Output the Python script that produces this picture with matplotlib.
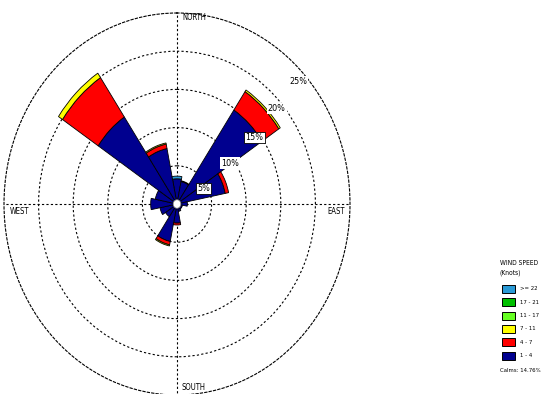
import numpy as np
import matplotlib
matplotlib.use('Agg')
import matplotlib.pyplot as plt
from matplotlib.patches import Rectangle

plt.rcParams['font.family'] = ['DejaVu Sans']

# 16 directions, clockwise from north
directions = ['N', 'NNE', 'NE', 'ENE', 'E', 'ESE', 'SE', 'SSE',
              'S', 'SSW', 'SW', 'WSW', 'W', 'WNW', 'NW', 'NNW']
angles_deg = np.arange(16) * 22.5

# frequency (%) per speed class, per direction
speed_1_4 = [3.3, 3.0, 14.8, 7.1, 1.5, 0.8, 0.8, 1.0,
             2.5, 5.0, 2.0, 2.5, 3.8, 3.2, 13.7, 7.4]
speed_4_7 = [0, 0.1, 2.9, 0.5, 0, 0, 0, 0,
             0.25, 0.45, 0, 0, 0, 0, 6.2, 0.6]
speed_7_11 = [0, 0, 0.25, 0, 0, 0, 0, 0,
              0, 0.15, 0, 0, 0, 0, 0.7, 0.15]
speed_11_17 = [0] * 16
speed_17_21 = [0] * 16
speed_22 = [0.35, 0, 0, 0, 0, 0, 0, 0,
            0, 0, 0, 0, 0, 0, 0, 0]

classes = ['1 - 4', '4 - 7', '7 - 11', '11 - 17', '17 - 21', '>= 22']
class_values = [speed_1_4, speed_4_7, speed_7_11, speed_11_17, speed_17_21, speed_22]
colors = ['#00008f', '#ff0000', '#ffff00', '#66ff22', '#00c000', '#2a9ad6']
calms = 14.76
ring_values = [5, 10, 15, 20, 25]

W, H = 544, 394
fig = plt.figure(figsize=(W / 100, H / 100), dpi=100)

ax = fig.add_axes([4 / W, -1 / H, 346 / W, 382 / H], projection='polar')
ax.set_aspect('auto')
ax.set_theta_zero_location('N')
ax.set_theta_direction(-1)
ax.set_ylim(0, 25)
ax.set_axisbelow(True)

theta = np.radians(angles_deg)
width = np.radians(22.5)
bottom = np.zeros(16)
for vals, col in zip(class_values, colors):
    vals = np.array(vals, dtype=float)
    mask = vals > 0
    ax.bar(theta[mask], vals[mask], width=width, bottom=bottom[mask],
           color=col, edgecolor='black', linewidth=0.6, zorder=3)
    bottom += vals

# calm circle in the middle
tt = np.linspace(0, 2 * np.pi, 100)
ax.fill(tt, np.full_like(tt, 0.55), color='white', edgecolor='#888888',
        linewidth=0.5, zorder=4)

# grid
ax.set_rgrids(ring_values[:-1], labels=[])
ax.set_thetagrids([0, 90, 180, 270], labels=[])
ax.grid(True, color='black', linestyle=(0, (2, 2)), linewidth=0.8)
ax.spines['polar'].set_linestyle((0, (2, 2)))
ax.spines['polar'].set_linewidth(0.8)

# ring labels
label_pos = [(62, 4.4, True), (55, 9.35, False), (52, 14.2, True),
             (49, 19.1, False), (47.5, 23.7, False)]
for v, (ang, r, boxed) in zip(ring_values, label_pos):
    bb = dict(boxstyle='square,pad=0.12', fc='white', ec='black' if boxed else 'none', lw=0.6)
    ax.text(np.radians(ang), r, f'{v}%', fontsize=6.5, ha='center', va='center',
            fontstretch='condensed', bbox=bb, zorder=5)

# compass labels
cfont = dict(fontsize=5.5, fontstretch='condensed', ha='left', va='center')
fig.text(182 / W, 1 - 18 / H, 'NORTH', **cfont)
fig.text(182 / W, 1 - 387 / H, 'SOUTH', **cfont)
fig.text(10 / W, 1 - 212 / H, 'WEST', **cfont)
fig.text(327 / W, 1 - 212 / H, 'EAST', **cfont)

# legend
lx = 500
lfont = dict(fontstretch='condensed', ha='left', va='center')
fig.text(lx / W, 1 - 263 / H, 'WIND SPEED', fontsize=4.8, **lfont)
fig.text(lx / W, 1 - 273 / H, '(Knots)', fontsize=4.8, **lfont)
for i, (lab, col) in enumerate(zip(classes[::-1], colors[::-1])):
    y = 289 + i * 13.3
    fig.patches.append(Rectangle((502 / W, 1 - (y + 4) / H), 13 / W, 8 / H,
                                 transform=fig.transFigure, fc=col, ec='black', lw=0.7))
    fig.text(520 / W, 1 - y / H, lab, fontsize=4.3, **lfont)
fig.text(lx / W, 1 - 371 / H, f'Calms: {calms:.2f}%', fontsize=4.3, **lfont)

fig.savefig('out.png', dpi=100)
